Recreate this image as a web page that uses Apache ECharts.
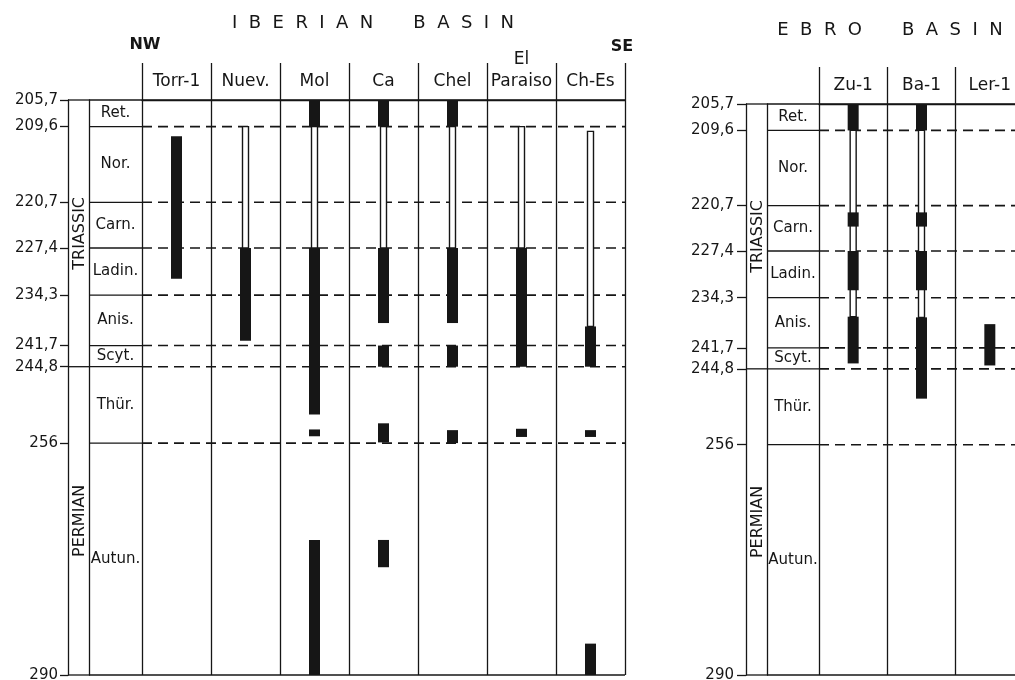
<!DOCTYPE html>
<html>
<head>
<meta charset="utf-8">
<script src="https://cdn.jsdelivr.net/npm/echarts@6/dist/echarts.min.js"></script>
<style>
html,body{margin:0;padding:0;background:#fff;}
#chart{width:1015px;height:680px;}
</style>
</head>
<body>
<div id="chart"></div>
<script>
// ---------- data ----------
const ageTicks = [205.7, 209.6, 220.7, 227.4, 234.3, 241.7, 244.8, 256, 290];
const periodBoundary = [244.8];
const periods = [['TRIASSIC', 205.7, 244.8], ['PERMIAN', 244.8, 290]];
const stages = [
  ['Ret.', 205.7, 209.6], ['Nor.', 209.6, 220.7], ['Carn.', 220.7, 227.4],
  ['Ladin.', 227.4, 234.3], ['Anis.', 234.3, 241.7], ['Scyt.', 241.7, 244.8],
  ['Thür.', 244.8, 256], ['Autun.', 256, 290]
];

const iberianWells = ['Torr-1', 'Nuev.', 'Mol', 'Ca', 'Chel', 'El\nParaiso', 'Ch-Es'];
// [well index, top age, bottom age]
const iberianSolid = [
  [0, 211.0, 231.9],
  [1, 227.4, 241.0],
  [2, 205.7, 209.6], [2, 227.4, 251.8], [2, 254.0, 255.0], [2, 270.2, 290],
  [3, 205.7, 209.6], [3, 227.4, 238.4], [3, 241.7, 244.8], [3, 253.1, 255.9], [3, 270.2, 274.2],
  [4, 205.7, 209.6], [4, 227.4, 238.4], [4, 241.7, 244.8], [4, 254.1, 256.0],
  [5, 227.4, 244.8], [5, 253.9, 255.1],
  [6, 238.9, 244.8], [6, 254.1, 255.1], [6, 285.4, 290]
];
const iberianThin = [
  [1, 209.6, 227.4], [2, 209.6, 227.4], [3, 209.6, 227.4],
  [4, 209.6, 227.4], [5, 209.6, 227.4], [6, 210.3, 238.9]
];

const ebroWells = ['Zu-1', 'Ba-1', 'Ler-1'];
const ebroSolid = [
  [0, 205.7, 209.6], [0, 221.7, 223.8], [0, 227.4, 233.2], [0, 237.1, 244.0],
  [1, 205.7, 209.6], [1, 221.7, 223.8], [1, 227.4, 233.2], [1, 237.2, 249.2],
  [2, 238.2, 244.3]
];
const ebroThin = [
  [0, 209.6, 237.1], [1, 209.6, 237.2]
];

// ---------- styling ----------
const FONT = 'DejaVu Sans';
const INK = '#161616';

function fmtAge(v) { return String(v).replace('.', ','); }

function lineRenderer(mode) {
  return function (params, api) {
    const cs = params.coordSys;
    const v = api.value(1);
    const y = api.coord([0, v])[1];
    const edge = params.dataIndex === 0 || params.dataIndex === ageTicks.length - 1;
    if (mode === 'period' && !edge && periodBoundary.indexOf(v) < 0) {
      return { type: 'group', children: [] };
    }
    const dashed = mode === 'wells' && !edge;
    return {
      type: 'line',
      shape: { x1: cs.x, y1: y, x2: cs.x + cs.width, y2: y },
      style: { stroke: INK, lineWidth: dashed ? 1.6 : 1.3, lineDash: dashed ? [10, 6] : null }
    };
  };
}

function barRenderer(w, thin) {
  return function (params, api) {
    const a = api.coord([api.value(0), api.value(1)]);
    const b = api.coord([api.value(0), api.value(2)]);
    return {
      type: 'rect',
      shape: { x: a[0] - w / 2, y: a[1], width: w, height: b[1] - a[1] },
      style: thin ? { fill: '#fff', stroke: INK, lineWidth: 1.4 } : { fill: INK }
    };
  };
}

function stageRenderer(params, api) {
  const cs = params.coordSys;
  const y1 = api.coord([0.5, api.value(1)])[1];
  const y2 = api.coord([0.5, api.value(2)])[1];
  return {
    type: 'text',
    x: cs.x + cs.width / 2, y: (y1 + y2) / 2,
    style: { text: stages[params.dataIndex][0], fill: INK, font: '15px "' + FONT + '"', align: 'center', verticalAlign: 'middle' }
  };
}

function periodRenderer(params, api) {
  const cs = params.coordSys;
  const y1 = api.coord([0.5, api.value(1)])[1];
  const y2 = api.coord([0.5, api.value(2)])[1];
  return {
    type: 'text',
    x: cs.x + cs.width / 2 + 1, y: (y1 + y2) / 2,
    rotation: Math.PI / 2,
    style: { text: periods[params.dataIndex][0], fill: INK, font: '16px "' + FONT + '"', align: 'center', verticalAlign: 'middle' }
  };
}

const tickData = ageTicks.map(v => [0, v]);
const stageData = stages.map(s => [0.5, s[1], s[2]]);
const periodData = periods.map(p => [0.5, p[1], p[2]]);

function panel(gi, top, height, periodLeft, stageLeft, wellsLeft, wellsWidth, wells, solid, thin, labelMargin, tickLen) {
  const g = { top: top, height: height, outerBoundsMode: 'none', containLabel: false };
  const grids = [
    Object.assign({ left: periodLeft, width: stageLeft - periodLeft }, g),
    Object.assign({ left: stageLeft, width: wellsLeft - stageLeft }, g),
    Object.assign({ left: wellsLeft, width: wellsWidth }, g)
  ];
  const lineStyle = { color: INK, width: 1.3 };
  const xAxes = [
    { gridIndex: gi, type: 'value', min: 0, max: 1, show: false },
    { gridIndex: gi + 1, type: 'value', min: 0, max: 1, show: false },
    {
      gridIndex: gi + 2, type: 'category', data: wells, position: 'top',
      axisLine: { show: true, lineStyle: lineStyle },
      axisTick: { show: true, length: 37, interval: 0, lineStyle: lineStyle },
      axisLabel: { interval: 0, margin: 7, color: INK, fontSize: 17, fontFamily: FONT, lineHeight: 22 },
      splitLine: { show: true, interval: 0, lineStyle: lineStyle }
    }
  ];
  const yBase = { type: 'value', inverse: true, min: 205.7, max: 290, splitLine: { show: false } };
  const yAxes = [
    Object.assign({}, yBase, {
      gridIndex: gi,
      axisLine: { show: true, lineStyle: lineStyle },
      axisTick: { show: true, length: tickLen, customValues: ageTicks, lineStyle: lineStyle },
      axisLabel: { show: true, customValues: ageTicks, formatter: fmtAge, margin: labelMargin, color: INK, fontSize: 15, fontFamily: FONT }
    }),
    Object.assign({}, yBase, {
      gridIndex: gi + 1,
      axisLine: { show: true, lineStyle: lineStyle },
      axisTick: { show: false }, axisLabel: { show: false }
    }),
    Object.assign({}, yBase, { gridIndex: gi + 2, show: false })
  ];
  const series = [
    { type: 'custom', xAxisIndex: gi, yAxisIndex: gi, data: tickData, encode: { x: 0, y: 1 }, renderItem: lineRenderer('period'), z: 3, silent: true },
    { type: 'custom', xAxisIndex: gi + 1, yAxisIndex: gi + 1, data: tickData, encode: { x: 0, y: 1 }, renderItem: lineRenderer('stage'), z: 3, silent: true },
    { type: 'custom', xAxisIndex: gi + 2, yAxisIndex: gi + 2, data: tickData, encode: { x: 0, y: 1 }, renderItem: lineRenderer('wells'), z: 3, silent: true },
    { type: 'custom', xAxisIndex: gi + 1, yAxisIndex: gi + 1, data: stageData, encode: { x: 0, y: [1, 2] }, renderItem: stageRenderer, z: 4, silent: true },
    { type: 'custom', xAxisIndex: gi, yAxisIndex: gi, data: periodData, encode: { x: 0, y: [1, 2] }, renderItem: periodRenderer, z: 4, silent: true },
    { type: 'custom', xAxisIndex: gi + 2, yAxisIndex: gi + 2, data: thin, encode: { x: 0, y: [1, 2] }, renderItem: barRenderer(6, true), z: 5, silent: true },
    { type: 'custom', xAxisIndex: gi + 2, yAxisIndex: gi + 2, data: solid, encode: { x: 0, y: [1, 2] }, renderItem: barRenderer(11, false), z: 6, silent: true }
  ];
  return { grids, xAxes, yAxes, series };
}

const left = panel(0, 100, 575, 68, 89, 142, 483, iberianWells, iberianSolid, iberianThin, 10, 8);
const right = panel(3, 104, 571, 746, 767, 819, 205, ebroWells, ebroSolid, ebroThin, 12, 9);

const titleFont = '18px "' + FONT + '"';
const option = {
  backgroundColor: '#fff',
  animation: false,
  grid: left.grids.concat(right.grids),
  xAxis: left.xAxes.concat(right.xAxes),
  yAxis: left.yAxes.concat(right.yAxes),
  series: left.series.concat(right.series),
  graphic: [
    { type: 'text', x: 373, y: 23, style: { text: 'I  B  E  R  I  A  N       B  A  S  I  N', font: titleFont, fill: INK, align: 'center', verticalAlign: 'middle' } },
    { type: 'text', x: 890, y: 30, style: { text: 'E  B  R  O       B  A  S  I  N', font: titleFont, fill: INK, align: 'center', verticalAlign: 'middle' } },
    { type: 'text', x: 145, y: 45, style: { text: 'NW', font: 'bold 16px "' + FONT + '"', fill: INK, align: 'center', verticalAlign: 'middle' } },
    { type: 'text', x: 622, y: 47, style: { text: 'SE', font: 'bold 16px "' + FONT + '"', fill: INK, align: 'center', verticalAlign: 'middle' } }
  ]
};

const chart = echarts.init(document.getElementById('chart'), null, { renderer: 'canvas' });
chart.setOption(option);
</script>
</body>
</html>
